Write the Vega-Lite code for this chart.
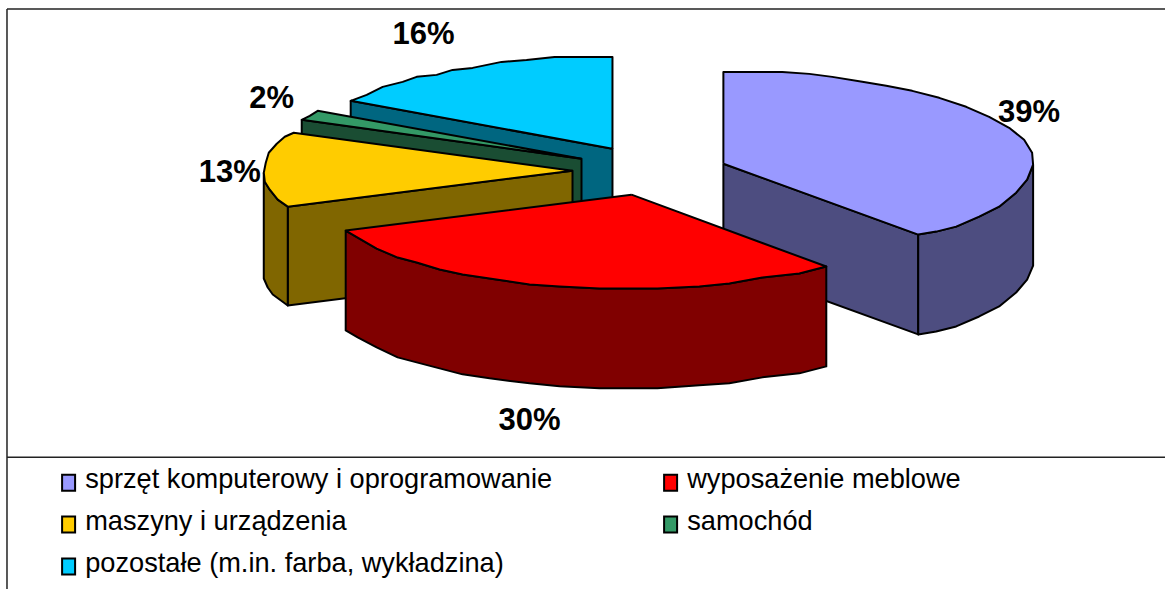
{"$schema":"https://vega.github.io/schema/vega-lite/v6.json","width":1166,"height":590,"padding":0,"autosize":{"type":"fit","contains":"padding"},"background":"white","config":{"view":{"stroke":null}},
"datasets":{"outline":[
{"f":"a1","k":"pozostałe bok","x":351,"y":101},{"f":"a1","k":"pozostałe bok","x":613,"y":149},{"f":"a1","k":"pozostałe bok","x":613,"y":240},{"f":"a1","k":"pozostałe bok","x":351,"y":200},{"f":"a1","k":"pozostałe bok","x":351,"y":101},
{"f":"a2","k":"pozostałe (m.in. farba, wykładzina)","x":613,"y":149},{"f":"a2","k":"pozostałe (m.in. farba, wykładzina)","x":613,"y":57},{"f":"a2","k":"pozostałe (m.in. farba, wykładzina)","x":555,"y":57},{"f":"a2","k":"pozostałe (m.in. farba, wykładzina)","x":527,"y":60},{"f":"a2","k":"pozostałe (m.in. farba, wykładzina)","x":502,"y":62},{"f":"a2","k":"pozostałe (m.in. farba, wykładzina)","x":473,"y":68},{"f":"a2","k":"pozostałe (m.in. farba, wykładzina)","x":453,"y":70},{"f":"a2","k":"pozostałe (m.in. farba, wykładzina)","x":437,"y":75},{"f":"a2","k":"pozostałe (m.in. farba, wykładzina)","x":417,"y":77},{"f":"a2","k":"pozostałe (m.in. farba, wykładzina)","x":403,"y":82},{"f":"a2","k":"pozostałe (m.in. farba, wykładzina)","x":383,"y":87},{"f":"a2","k":"pozostałe (m.in. farba, wykładzina)","x":367,"y":95},{"f":"a2","k":"pozostałe (m.in. farba, wykładzina)","x":351,"y":101},{"f":"a2","k":"pozostałe (m.in. farba, wykładzina)","x":613,"y":149},
{"f":"b1","k":"samochód bok","x":302,"y":120},{"f":"b1","k":"samochód bok","x":582,"y":159},{"f":"b1","k":"samochód bok","x":582,"y":240},{"f":"b1","k":"samochód bok","x":302,"y":180},{"f":"b1","k":"samochód bok","x":302,"y":120},
{"f":"b2","k":"samochód","x":582,"y":159},{"f":"b2","k":"samochód","x":318,"y":111},{"f":"b2","k":"samochód","x":310,"y":116},{"f":"b2","k":"samochód","x":302,"y":120},{"f":"b2","k":"samochód","x":582,"y":159},
{"f":"c1","k":"maszyny bok","x":288,"y":207},{"f":"c1","k":"maszyny bok","x":573,"y":171},{"f":"c1","k":"maszyny bok","x":573,"y":270},{"f":"c1","k":"maszyny bok","x":288,"y":306},{"f":"c1","k":"maszyny bok","x":288,"y":207},
{"f":"c2","k":"maszyny bok","x":264,"y":173},{"f":"c2","k":"maszyny bok","x":265,"y":182},{"f":"c2","k":"maszyny bok","x":270,"y":190},{"f":"c2","k":"maszyny bok","x":278,"y":200},{"f":"c2","k":"maszyny bok","x":288,"y":207},{"f":"c2","k":"maszyny bok","x":288,"y":306},{"f":"c2","k":"maszyny bok","x":273,"y":295},{"f":"c2","k":"maszyny bok","x":268,"y":288},{"f":"c2","k":"maszyny bok","x":264,"y":279},{"f":"c2","k":"maszyny bok","x":264,"y":173},
{"f":"c3","k":"maszyny i urządzenia","x":573,"y":171},{"f":"c3","k":"maszyny i urządzenia","x":294,"y":133},{"f":"c3","k":"maszyny i urządzenia","x":285,"y":137},{"f":"c3","k":"maszyny i urządzenia","x":277,"y":144},{"f":"c3","k":"maszyny i urządzenia","x":269,"y":153},{"f":"c3","k":"maszyny i urządzenia","x":266,"y":163},{"f":"c3","k":"maszyny i urządzenia","x":264,"y":173},{"f":"c3","k":"maszyny i urządzenia","x":265,"y":182},{"f":"c3","k":"maszyny i urządzenia","x":270,"y":190},{"f":"c3","k":"maszyny i urządzenia","x":278,"y":200},{"f":"c3","k":"maszyny i urządzenia","x":288,"y":207},{"f":"c3","k":"maszyny i urządzenia","x":573,"y":171},
{"f":"d1","k":"sprzęt bok","x":724,"y":164},{"f":"d1","k":"sprzęt bok","x":919,"y":235},{"f":"d1","k":"sprzęt bok","x":919,"y":335},{"f":"d1","k":"sprzęt bok","x":724,"y":264},{"f":"d1","k":"sprzęt bok","x":724,"y":164},
{"f":"d2","k":"sprzęt bok","x":1034,"y":165},{"f":"d2","k":"sprzęt bok","x":1028,"y":180},{"f":"d2","k":"sprzęt bok","x":1017,"y":193},{"f":"d2","k":"sprzęt bok","x":1000,"y":207},{"f":"d2","k":"sprzęt bok","x":980,"y":217},{"f":"d2","k":"sprzęt bok","x":957,"y":227},{"f":"d2","k":"sprzęt bok","x":937,"y":232},{"f":"d2","k":"sprzęt bok","x":919,"y":235},{"f":"d2","k":"sprzęt bok","x":919,"y":335},{"f":"d2","k":"sprzęt bok","x":937,"y":332},{"f":"d2","k":"sprzęt bok","x":957,"y":327},{"f":"d2","k":"sprzęt bok","x":980,"y":317},{"f":"d2","k":"sprzęt bok","x":1000,"y":307},{"f":"d2","k":"sprzęt bok","x":1017,"y":293},{"f":"d2","k":"sprzęt bok","x":1028,"y":280},{"f":"d2","k":"sprzęt bok","x":1034,"y":266},{"f":"d2","k":"sprzęt bok","x":1034,"y":165},
{"f":"d3","k":"sprzęt komputerowy i oprogramowanie","x":724,"y":164},{"f":"d3","k":"sprzęt komputerowy i oprogramowanie","x":724,"y":72},{"f":"d3","k":"sprzęt komputerowy i oprogramowanie","x":783,"y":72},{"f":"d3","k":"sprzęt komputerowy i oprogramowanie","x":810,"y":74},{"f":"d3","k":"sprzęt komputerowy i oprogramowanie","x":833,"y":77},{"f":"d3","k":"sprzęt komputerowy i oprogramowanie","x":863,"y":82},{"f":"d3","k":"sprzęt komputerowy i oprogramowanie","x":887,"y":86},{"f":"d3","k":"sprzęt komputerowy i oprogramowanie","x":913,"y":91},{"f":"d3","k":"sprzęt komputerowy i oprogramowanie","x":940,"y":98},{"f":"d3","k":"sprzęt komputerowy i oprogramowanie","x":967,"y":107},{"f":"d3","k":"sprzęt komputerowy i oprogramowanie","x":990,"y":117},{"f":"d3","k":"sprzęt komputerowy i oprogramowanie","x":1010,"y":128},{"f":"d3","k":"sprzęt komputerowy i oprogramowanie","x":1025,"y":140},{"f":"d3","k":"sprzęt komputerowy i oprogramowanie","x":1033,"y":153},{"f":"d3","k":"sprzęt komputerowy i oprogramowanie","x":1034,"y":165},{"f":"d3","k":"sprzęt komputerowy i oprogramowanie","x":1028,"y":180},{"f":"d3","k":"sprzęt komputerowy i oprogramowanie","x":1017,"y":193},{"f":"d3","k":"sprzęt komputerowy i oprogramowanie","x":1000,"y":207},{"f":"d3","k":"sprzęt komputerowy i oprogramowanie","x":980,"y":217},{"f":"d3","k":"sprzęt komputerowy i oprogramowanie","x":957,"y":227},{"f":"d3","k":"sprzęt komputerowy i oprogramowanie","x":937,"y":232},{"f":"d3","k":"sprzęt komputerowy i oprogramowanie","x":919,"y":235},{"f":"d3","k":"sprzęt komputerowy i oprogramowanie","x":724,"y":164},
{"f":"e1","k":"wyposażenie bok","x":346,"y":231},{"f":"e1","k":"wyposażenie bok","x":358,"y":238},{"f":"e1","k":"wyposażenie bok","x":377,"y":249},{"f":"e1","k":"wyposażenie bok","x":398,"y":258},{"f":"e1","k":"wyposażenie bok","x":417,"y":263},{"f":"e1","k":"wyposażenie bok","x":440,"y":270},{"f":"e1","k":"wyposażenie bok","x":463,"y":275},{"f":"e1","k":"wyposażenie bok","x":490,"y":279},{"f":"e1","k":"wyposażenie bok","x":530,"y":285},{"f":"e1","k":"wyposażenie bok","x":560,"y":287},{"f":"e1","k":"wyposażenie bok","x":600,"y":289},{"f":"e1","k":"wyposażenie bok","x":658,"y":289},{"f":"e1","k":"wyposażenie bok","x":700,"y":287},{"f":"e1","k":"wyposażenie bok","x":730,"y":284},{"f":"e1","k":"wyposażenie bok","x":763,"y":278},{"f":"e1","k":"wyposażenie bok","x":800,"y":274},{"f":"e1","k":"wyposażenie bok","x":827,"y":267},{"f":"e1","k":"wyposażenie bok","x":827,"y":367},{"f":"e1","k":"wyposażenie bok","x":800,"y":374},{"f":"e1","k":"wyposażenie bok","x":763,"y":378},{"f":"e1","k":"wyposażenie bok","x":730,"y":384},{"f":"e1","k":"wyposażenie bok","x":700,"y":386},{"f":"e1","k":"wyposażenie bok","x":658,"y":389},{"f":"e1","k":"wyposażenie bok","x":600,"y":389},{"f":"e1","k":"wyposażenie bok","x":560,"y":387},{"f":"e1","k":"wyposażenie bok","x":530,"y":384},{"f":"e1","k":"wyposażenie bok","x":490,"y":379},{"f":"e1","k":"wyposażenie bok","x":463,"y":375},{"f":"e1","k":"wyposażenie bok","x":440,"y":369},{"f":"e1","k":"wyposażenie bok","x":417,"y":363},{"f":"e1","k":"wyposażenie bok","x":398,"y":358},{"f":"e1","k":"wyposażenie bok","x":377,"y":348},{"f":"e1","k":"wyposażenie bok","x":358,"y":338},{"f":"e1","k":"wyposażenie bok","x":346,"y":331},{"f":"e1","k":"wyposażenie bok","x":346,"y":231},
{"f":"e2","k":"wyposażenie meblowe","x":632,"y":195},{"f":"e2","k":"wyposażenie meblowe","x":346,"y":231},{"f":"e2","k":"wyposażenie meblowe","x":358,"y":238},{"f":"e2","k":"wyposażenie meblowe","x":377,"y":249},{"f":"e2","k":"wyposażenie meblowe","x":398,"y":258},{"f":"e2","k":"wyposażenie meblowe","x":417,"y":263},{"f":"e2","k":"wyposażenie meblowe","x":440,"y":270},{"f":"e2","k":"wyposażenie meblowe","x":463,"y":275},{"f":"e2","k":"wyposażenie meblowe","x":490,"y":279},{"f":"e2","k":"wyposażenie meblowe","x":530,"y":285},{"f":"e2","k":"wyposażenie meblowe","x":560,"y":287},{"f":"e2","k":"wyposażenie meblowe","x":600,"y":289},{"f":"e2","k":"wyposażenie meblowe","x":658,"y":289},{"f":"e2","k":"wyposażenie meblowe","x":700,"y":287},{"f":"e2","k":"wyposażenie meblowe","x":730,"y":284},{"f":"e2","k":"wyposażenie meblowe","x":763,"y":278},{"f":"e2","k":"wyposażenie meblowe","x":800,"y":274},{"f":"e2","k":"wyposażenie meblowe","x":827,"y":267},{"f":"e2","k":"wyposażenie meblowe","x":632,"y":195}
],
"labels":[{"share":0.39,"x":1030,"y":113},{"share":0.30,"x":530,"y":422},{"share":0.13,"x":230,"y":173},{"share":0.02,"x":272,"y":99},{"share":0.16,"x":424,"y":35}],
"frame":[{"x":7,"x2":1166,"y":9,"y2":9},{"x":7,"x2":7,"y":9,"y2":590},{"x":7,"x2":1166,"y":458,"y2":458}]},
"layer":[
{"data":{"name":"frame"},"mark":{"type":"rule","color":"#222222","strokeWidth":1.5},"encoding":{"x":{"field":"x","type":"quantitative","scale":{"domain":[0,1166],"nice":false,"zero":false},"axis":null},"x2":{"field":"x2"},"y":{"field":"y","type":"quantitative","scale":{"domain":[590,0],"nice":false,"zero":false},"axis":null},"y2":{"field":"y2"}}},
{"data":{"name":"outline"},"mark":{"type":"line","stroke":"black","strokeWidth":2,"strokeJoin":"round","interpolate":"linear"},"encoding":{"x":{"field":"x","type":"quantitative","scale":{"domain":[0,1166],"nice":false,"zero":false},"axis":null},"y":{"field":"y","type":"quantitative","scale":{"domain":[590,0],"nice":false,"zero":false},"axis":null},"detail":{"field":"f"},"order":{"value":null},"fill":{"field":"k","type":"nominal","title":null,"scale":{"domain":["sprzęt komputerowy i oprogramowanie","wyposażenie meblowe","maszyny i urządzenia","samochód","pozostałe (m.in. farba, wykładzina)","sprzęt bok","wyposażenie bok","maszyny bok","samochód bok","pozostałe bok"],"range":["#9999FF","#FF0000","#FFCC00","#339966","#00CCFF","#4D4D80","#800000","#806600","#1A4D33","#006680"]},"legend":{"values":["sprzęt komputerowy i oprogramowanie","wyposażenie meblowe","maszyny i urządzenia","samochód","pozostałe (m.in. farba, wykładzina)"],"orient":"none","legendX":55,"legendY":466,"columns":2,"direction":"horizontal","symbolType":"M-1,-0.77L1,-0.77L1,1.69L-1,1.69Z","symbolSize":169,"symbolStrokeColor":"black","symbolStrokeWidth":2,"symbolOpacity":1,"labelFont":"Liberation Sans","labelFontSize":27.2,"labelColor":"black","labelLimit":600,"labelOffset":3,"rowPadding":12,"columnPadding":104,"padding":0}}}},
{"data":{"name":"labels"},"mark":{"type":"text","font":"Liberation Sans","fontWeight":"bold","fontSize":31,"color":"black","align":"center","baseline":"middle"},"encoding":{"x":{"field":"x","type":"quantitative","scale":{"domain":[0,1166],"nice":false,"zero":false},"axis":null},"y":{"field":"y","type":"quantitative","scale":{"domain":[590,0],"nice":false,"zero":false},"axis":null},"text":{"field":"share","type":"quantitative","format":".0%"}}}
]}
